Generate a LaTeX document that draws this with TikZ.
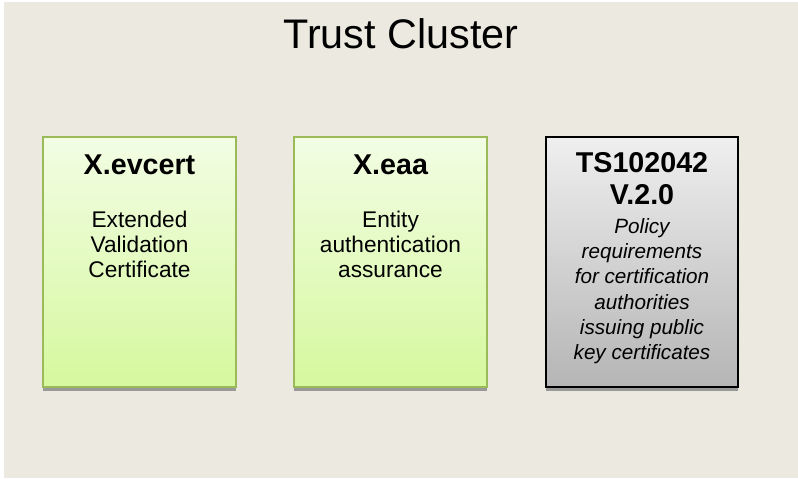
\documentclass[tikz,border=0pt]{standalone}
\usepackage{xcolor}
\usepackage{fontspec}
\setmainfont{Liberation Sans}
\usepackage{tikz}

\definecolor{panelbg}{RGB}{236,234,224}
\definecolor{greentop}{RGB}{242,253,228}
\definecolor{greenbot}{RGB}{214,248,158}
\definecolor{greenline}{RGB}{155,187,89}
\definecolor{greytop}{RGB}{239,239,239}
\definecolor{greybot}{RGB}{181,181,181}

\begin{document}
\begin{tikzpicture}[x=0.75pt,y=0.75pt,yscale=-1,xscale=1,
    greenbox/.style={draw=greenline,line width=1.5pt,top color=greentop,bottom color=greenbot,minimum width=144.75pt,minimum height=187.5pt,inner sep=0pt},
    greybox/.style={draw=black,line width=1.5pt,top color=greytop,bottom color=greybot,minimum width=144pt,minimum height=187.5pt,inner sep=0pt},
    boxshadow/.style={fill=gray!80,draw=none},
    headtext/.style={inner sep=0pt,font=\fontsize{21.5}{24}\selectfont\bfseries,align=center},
    bodytext/.style={inner sep=0pt,font=\fontsize{17}{18.75}\selectfont,align=center},
    noteText/.style={inner sep=0pt,font=\fontsize{15.5}{19}\selectfont\itshape,align=center}]
        \useasboundingbox (0,0) rectangle (798,478);
        \fill [white] (0,0) rectangle (798,478);
        \fill [panelbg] (4,2) rectangle (798,478);
        
        \draw (401,49) node [anchor=base,inner sep=0pt,font=\fontsize{31}{36}\selectfont] (title) {Trust Cluster};
        
        \fill [boxshadow] (43,387) rectangle (236,391);
        \fill [boxshadow] (294,387) rectangle (487,391);
        \fill [boxshadow] (546,387) rectangle (738,391);
        \draw (139.5,262) node [greenbox] (evcert) {};
        \draw (390.5,262) node [greenbox] (eaa) {};
        \draw (642,262) node [greybox] (ts) {};
        
        \draw (139.5,174) node [headtext,anchor=base] (evcerthead) {X.evcert};
        \draw (139.5,210.5) node [bodytext,anchor=north] (evcertbody) {Extended\\Validation\\Certificate};
        \draw (390.5,174) node [headtext,anchor=base] (eaahead) {X.eaa};
        \draw (390.5,210.5) node [bodytext,anchor=north] (eaabody) {Entity\\authentication\\assurance};
        \draw (642,152.5) node [headtext,anchor=north] (tshead) {TS102042\\V.2.0};
        \draw (642,218) node [noteText,anchor=north] (tsbody) {Policy\\requirements\\for certification\\authorities\\issuing public\\key certificates};
    \end{tikzpicture}
\end{document}
